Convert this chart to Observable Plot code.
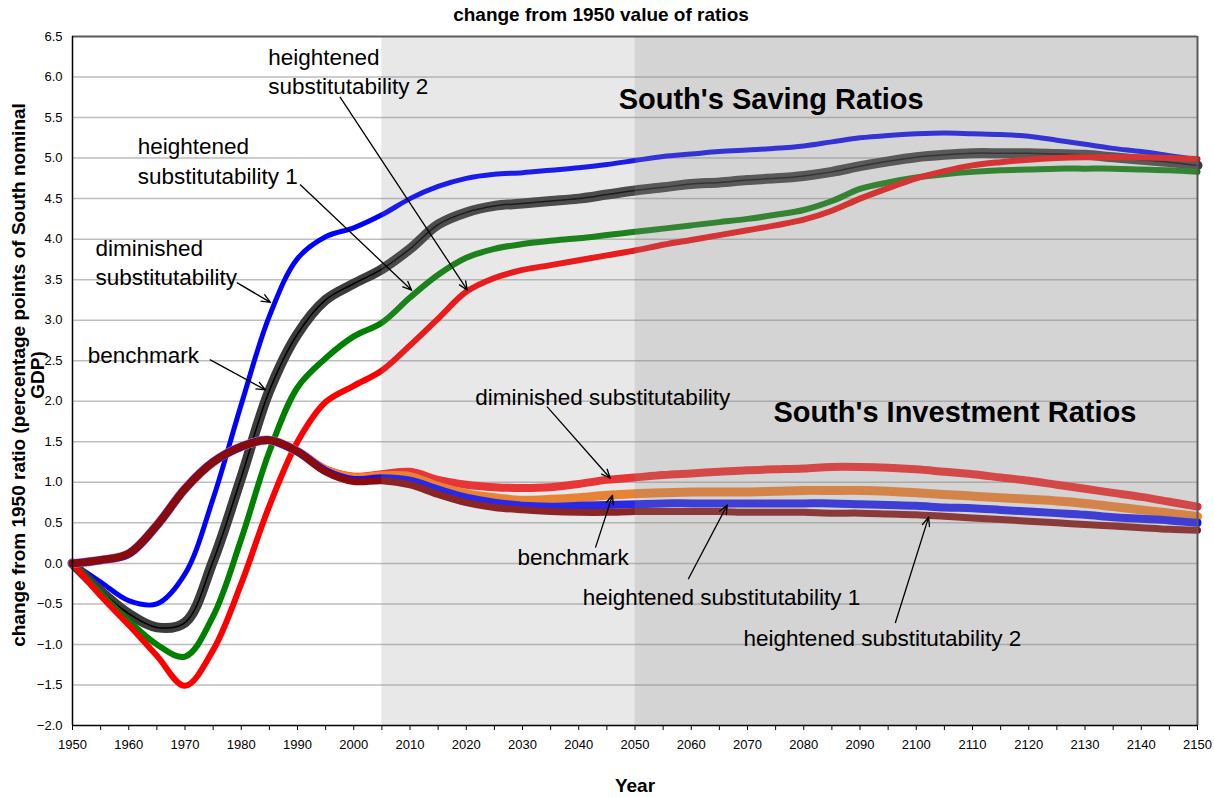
<!DOCTYPE html>
<html><head><meta charset="utf-8">
<script src="https://cdn.jsdelivr.net/npm/d3@7"></script>
<script src="https://cdn.jsdelivr.net/npm/@observablehq/plot@0.6"></script>
<style>
body{margin:0;background:#fff;font-family:"Liberation Sans",Arial,sans-serif;}
#sub{height:26px;line-height:30px;font-weight:bold;font-size:19px;text-align:center;width:1202px;white-space:nowrap;overflow:hidden;}
#chart svg{display:block;}
</style></head><body>
<div id="sub">change from 1950 value of ratios</div>
<div id="chart"></div>
<script>
// ---- data ----
const years = [1950,1955,1960,1965,1970,1975,1980,1985,1990,1995,2000,2005,2010,2015,2020,2025,2030,2035,2040,2045,2050,2055,2060,2065,2070,2075,2080,2085,2090,2095,2100,2105,2110,2115,2120,2125,2130,2135,2140,2145,2150];

// South's saving ratios
const savDiminished = [0,-0.23,-0.46,-0.5,-0.13,0.8,1.96,3.05,3.76,4.03,4.14,4.3,4.5,4.65,4.75,4.8,4.82,4.85,4.88,4.92,4.97,5.02,5.05,5.08,5.1,5.12,5.15,5.2,5.25,5.28,5.3,5.31,5.3,5.29,5.27,5.22,5.17,5.12,5.08,5.03,4.98];
const savBenchmark = [0,-0.34,-0.62,-0.79,-0.73,0.03,1.06,2.13,2.83,3.25,3.45,3.63,3.88,4.18,4.33,4.41,4.44,4.47,4.5,4.55,4.6,4.64,4.68,4.7,4.73,4.75,4.78,4.83,4.9,4.96,5.01,5.04,5.06,5.06,5.06,5.05,5.04,5.01,4.98,4.95,4.91];
const savHeightened1 = [0,-0.37,-0.71,-1.0,-1.15,-0.65,0.3,1.38,2.17,2.53,2.8,2.97,3.28,3.56,3.77,3.88,3.94,3.98,4.01,4.05,4.09,4.13,4.17,4.21,4.25,4.3,4.36,4.47,4.62,4.7,4.76,4.8,4.83,4.85,4.86,4.87,4.87,4.87,4.86,4.85,4.83];
const savHeightened2 = [0,-0.4,-0.76,-1.14,-1.51,-1.07,-0.25,0.71,1.5,1.99,2.19,2.38,2.69,3.02,3.35,3.52,3.62,3.68,3.74,3.8,3.86,3.93,3.99,4.05,4.11,4.17,4.24,4.35,4.5,4.63,4.75,4.84,4.91,4.95,4.98,5.0,5.01,5.01,5.01,5.0,4.99];

// South's investment ratios
const invDiminished = [0,0.04,0.12,0.47,0.92,1.25,1.44,1.52,1.38,1.16,1.07,1.1,1.13,1.03,0.97,0.94,0.93,0.94,0.98,1.03,1.06,1.09,1.11,1.13,1.15,1.16,1.17,1.19,1.19,1.18,1.16,1.13,1.1,1.06,1.02,0.97,0.92,0.87,0.82,0.76,0.7];
const invBenchmark = [0,0.04,0.12,0.47,0.92,1.25,1.44,1.52,1.38,1.15,1.06,1.08,1.07,0.95,0.86,0.81,0.78,0.79,0.81,0.84,0.86,0.87,0.88,0.88,0.88,0.89,0.9,0.9,0.9,0.89,0.87,0.85,0.83,0.81,0.79,0.77,0.74,0.7,0.66,0.62,0.58];
const invHeightened1 = [0,0.04,0.12,0.47,0.92,1.25,1.44,1.52,1.38,1.14,1.03,1.05,1.02,0.91,0.81,0.75,0.71,0.7,0.71,0.72,0.73,0.74,0.74,0.74,0.74,0.74,0.74,0.74,0.73,0.72,0.71,0.69,0.68,0.66,0.64,0.62,0.6,0.57,0.55,0.53,0.5];
const invHeightened2 = [0,0.04,0.12,0.47,0.92,1.25,1.44,1.52,1.38,1.13,1.01,1.02,0.97,0.85,0.75,0.69,0.66,0.64,0.63,0.63,0.64,0.64,0.64,0.64,0.63,0.63,0.63,0.62,0.62,0.61,0.6,0.58,0.56,0.54,0.52,0.5,0.48,0.46,0.44,0.42,0.41];

const yTicks = [-2.0,-1.5,-1.0,-0.5,0.0,0.5,1.0,1.5,2.0,2.5,3.0,3.5,4.0,4.5,5.0,5.5,6.0,6.5];
const xLabelTicks = [1950,1960,1970,1980,1990,2000,2010,2020,2030,2040,2050,2060,2070,2080,2090,2100,2110,2120,2130,2140,2150];
const xMinorTicks = [1955,1965,1975,1985,1995,2005,2015,2025,2035,2045,2055,2065,2075,2085,2095,2105,2115,2125,2135,2145];

// shaded periods
const periods = [{from: 2005, to: 2050, shade: 0.2}, {from: 2050, to: 2150, shade: 0.374}];

// annotations (data coordinates)
const labels = [
  {x: 1984.8, y: 6.08, text: "heightened\nsubstitutability 2"},
  {x: 1961.6, y: 4.98, text: "heightened\nsubstitutability 1"},
  {x: 1954.1, y: 3.73, text: "diminished\nsubstitutability"},
  {x: 1952.7, y: 2.59, text: "benchmark"},
  {x: 2021.6, y: 2.07, text: "diminished substitutability"},
  {x: 2029.1, y: 0.09, text: "benchmark"},
  {x: 2040.7, y: -0.40, text: "heightened substitutability 1"},
  {x: 2069.3, y: -0.91, text: "heightened substitutability 2"}
];
const titles = [
  {x: 2047.1, y: 5.72, text: "South's Saving Ratios"},
  {x: 2074.6, y: 1.86, text: "South's Investment Ratios"}
];
const arrows = [
  {x1: 1997.6, y1: 5.75, x2: 2020.2, y2: 3.37},
  {x1: 1990.5, y1: 4.67, x2: 2010.3, y2: 3.37},
  {x1: 1979.3, y1: 3.46, x2: 1985.2, y2: 3.22},
  {x1: 1974.5, y1: 2.51, x2: 1984.3, y2: 2.14},
  {x1: 2034.4, y1: 1.93, x2: 2045.6, y2: 1.05},
  {x1: 2043.0, y1: 0.20, x2: 2046.0, y2: 0.84},
  {x1: 2059.5, y1: -0.19, x2: 2066.4, y2: 0.72},
  {x1: 2096.3, y1: -0.73, x2: 2102.2, y2: 0.57}
];

// ---- build ----
const toRows = arr => years.map((year, i) => ({year, value: arr[i]}));
const lineOpts = (stroke, w) => ({x: "year", y: "value", stroke, strokeWidth: w, curve: "catmull-rom", strokeLinejoin: "round"});

const chart = Plot.plot({
  width: 1214,
  height: 771,
  marginTop: 10,
  marginBottom: 72,
  marginLeft: 72,
  marginRight: 17,
  x: {domain: [1950, 2150]},
  y: {domain: [-2, 6.5]},
  style: {fontFamily: "'Liberation Sans', Arial, sans-serif", fontSize: "13px", color: "#000", background: "#fff", overflow: "visible"},
  marks: [
    Plot.gridY(yTicks.slice(1, -1), {stroke: "#bdbdbd", strokeOpacity: 1, strokeWidth: 1.5}),
    // saving
    Plot.line(toRows(savDiminished), lineOpts("#0000ff", 5)),
    Plot.line(toRows(savBenchmark), lineOpts("#3c3c3c", 10)),
    Plot.line(toRows(savBenchmark), lineOpts("#000000", 1.5)),
    Plot.line(toRows(savHeightened1), lineOpts("#008000", 6)),
    Plot.line(toRows(savHeightened2), lineOpts("#ff0000", 6)),
    // investment
    Plot.line(toRows(invDiminished), lineOpts("#ff2020", 8)),
    Plot.line(toRows(invBenchmark), lineOpts("#ff8020", 9)),
    Plot.line(toRows(invHeightened1), lineOpts("#1010ff", 8)),
    Plot.line(toRows(invHeightened2), lineOpts("#8b0a0a", 7)),
    // shading
    Plot.rect(periods, {x1: "from", x2: "to", fill: "#8c8c8c", fillOpacity: "shade"}),
    // frame
    Plot.ruleY([6.5], {stroke: "#5a5a5a", strokeWidth: 2}),
    Plot.ruleX([2150], {stroke: "#5a5a5a", strokeWidth: 2}),
    Plot.ruleX([1950], {stroke: "#000", strokeWidth: 1.5}),
    Plot.ruleY([-2], {stroke: "#000", strokeWidth: 1.5}),
    // axes
    Plot.axisY({ticks: yTicks, tickFormat: d3.format(".1f"), tickSize: 0, tickPadding: 10, fontSize: 13, label: null}),
    Plot.axisX({ticks: xMinorTicks, tickSize: 5, tickFormat: () => "", label: null}),
    Plot.axisX({ticks: xLabelTicks, tickSize: 5, tickPadding: 9, tickFormat: d => String(d), fontSize: 13, label: null}),
    // annotations
    Plot.arrow(arrows, {x1: "x1", y1: "y1", x2: "x2", y2: "y2", bend: 0, stroke: "#000", strokeWidth: 1.3, headLength: 11, headAngle: 45}),
    Plot.text(labels, {x: "x", y: "y", text: "text", textAnchor: "start", lineAnchor: "middle", fontSize: 22.5, lineHeight: 1.29, fill: "#000"}),
    Plot.text(titles, {x: "x", y: "y", text: "text", textAnchor: "start", lineAnchor: "middle", fontSize: 29, fontWeight: "bold", fill: "#000"}),
    // axis titles
    Plot.text(["change from 1950 ratio (percentage points of South nominal\nGDP)"], {frameAnchor: "left", dx: -44, dy: -6, rotate: -90, fontWeight: "bold", fontSize: 19, lineHeight: 1.0, textAnchor: "middle", lineAnchor: "middle", fill: "#000"}),
    Plot.text(["Year"], {frameAnchor: "bottom", dy: 60, fontWeight: "bold", fontSize: 19, lineAnchor: "middle", fill: "#000"})
  ]
});
document.getElementById("chart").append(chart);
</script></body></html>
